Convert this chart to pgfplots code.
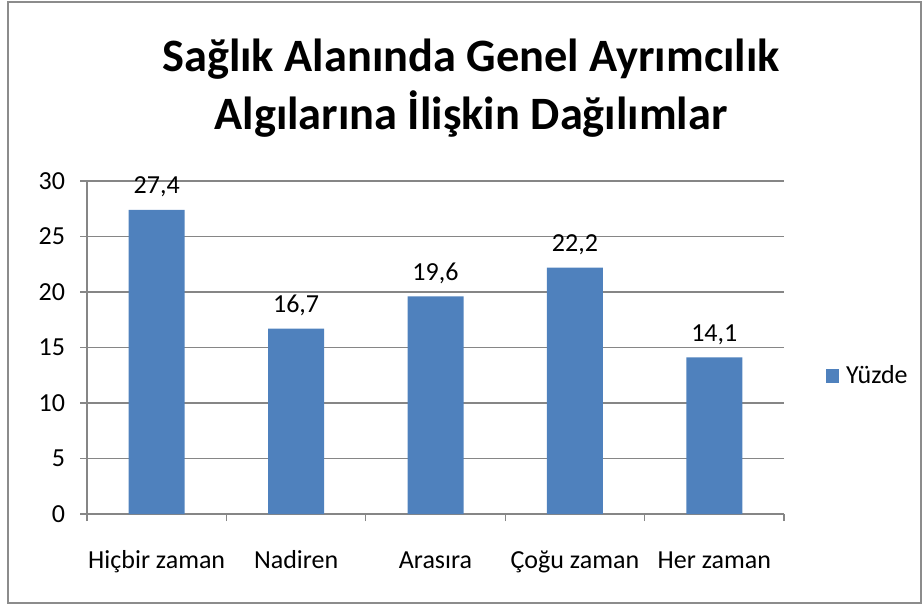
\documentclass[border=0pt]{standalone}
\usepackage{fontspec}
\setmainfont{Carlito}
\usepackage{pgfplots}
\pgfplotsset{compat=1.18}
\definecolor{barblue}{HTML}{4F81BD}
\definecolor{gridgray}{HTML}{868686}
\definecolor{framegray}{HTML}{8C8C8C}
\begin{document}
\begin{tikzpicture}
\path (0,0) rectangle (462pt,302.5pt);
\draw[framegray, line width=1pt] (4pt,1pt) rectangle (460.5pt,301.5pt);
\node[anchor=base, font=\bfseries\fontsize{23.2}{28}\selectfont] at (235.5pt,266.5pt) {Sağlık Alanında Genel Ayrımcılık};
\node[anchor=base, font=\bfseries\fontsize{23.2}{28}\selectfont] at (235.5pt,237.5pt) {Algılarına İlişkin Dağılımlar};
\begin{axis}[
  at={(43.5pt,45.5pt)}, anchor=south west,
  scale only axis, width=348.5pt, height=166.5pt,
  xmin=-0.5, xmax=4.5, ymin=0, ymax=30,
  axis x line*=bottom, axis y line*=left,
  axis line style={gridgray, line width=0.6pt},
  ytick={0,5,...,30},
  ymajorgrids, grid style={gridgray, line width=0.6pt},
  tick align=outside,
  tick style={gridgray, line width=0.6pt},
  major tick length=3.5pt,
  xtick={-0.5,0.5,...,4.5}, xticklabels={},
  extra x ticks={0,1,2,3,4},
  extra x tick labels={Hiçbir zaman,Nadiren,Arasıra,Çoğu zaman,Her zaman},
  extra x tick style={major tick length=0pt, grid=none},
  ticklabel style={font=\fontsize{13}{15}\selectfont, text=black},
  xticklabel style={anchor=base, yshift=-27pt},
  yticklabel style={xshift=-4pt},
  /pgf/number format/assume math mode=true,
  ybar, bar width=28pt,
  nodes near coords,
  nodes near coords style={font=\fontsize{13}{15}\selectfont, text=black, yshift=3pt,
    /pgf/number format/.cd, fixed, fixed zerofill, precision=1, use comma, assume math mode=true},
  legend style={draw=none, at={(1.060,0.415)}, anchor=west, font=\fontsize{13}{15}\selectfont, inner sep=0pt,
    nodes={inner sep=1.5pt, inner xsep=3.5pt}},
  legend image code/.code={\fill[barblue] (0pt,-3.4pt) rectangle (6.5pt,3.4pt);},
]
\addplot[fill=barblue, draw=none] coordinates {(0,27.4) (1,16.7) (2,19.6) (3,22.2) (4,14.1)};
\addlegendentry{Yüzde}
\end{axis}
\end{tikzpicture}
\end{document}
